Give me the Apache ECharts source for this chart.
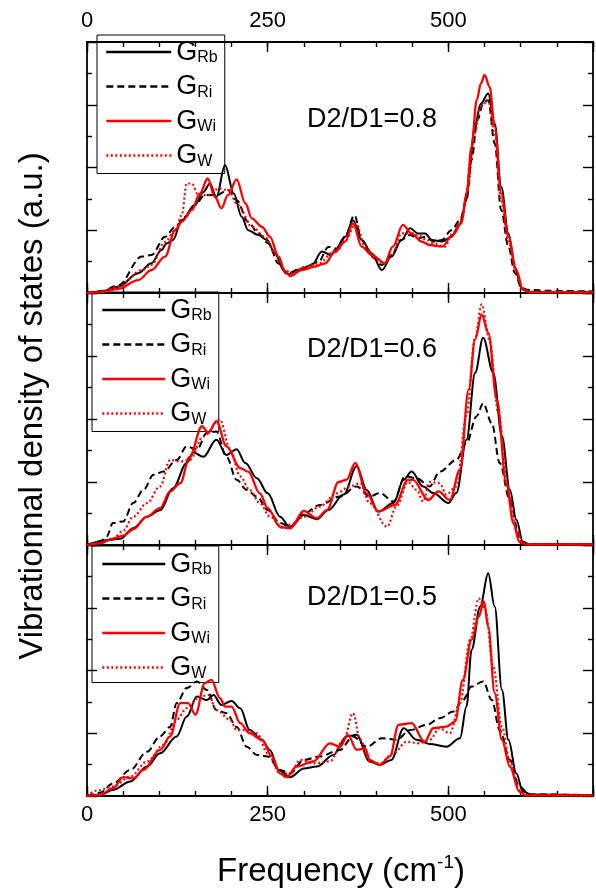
<!DOCTYPE html>
<html><head><meta charset="utf-8">
<script src="https://cdn.jsdelivr.net/npm/echarts@6/dist/echarts.min.js"></script>
<style>html,body{margin:0;padding:0;background:#fff}#c{width:596px;height:891px}</style>
</head><body><div id="c"></div>
<script>
// ---------- data (frequency cm^-1, DOS a.u.) ----------
const xTickLabels = [0, 250, 500];
const panelLabels = ['D2/D1=0.8', 'D2/D1=0.6', 'D2/D1=0.5'];
const seriesNames = ['GRb', 'GRi', 'GWi', 'GW'];

const GRb_08 = [[0,0],[20,0.05],[43,0.2],[71,0.63],[89,0.95],[103,1.37],[110,1.58],[119,1.69],[131,2.32],[149,2.8],[161,3.22],[170,3.49],[179,3.06],[191,4.08],[203,3.17],[214,2.43],[223,2.0],[237,1.85],[249,1.69],[260,1.26],[272,0.73],[279,0.6],[292,0.73],[311,0.89],[325,1.32],[338,1.21],[343,1.37],[357,1.79],[368,2.32],[380,1.69],[394,1.26],[408,0.73],[421,1.16],[435,1.69],[447,2.06],[458,1.9],[468,1.9],[477,1.69],[491,1.64],[504,1.79],[516,2.21],[525,2.96],[529,3.92],[536,5.3],[545,6.04],[555,6.36],[564,5.4],[573,3.39],[583,1.9],[592,0.83],[601,0.15],[610,0.04],[650,0.03],[700,0.03]];
const GRi_08 = [[0,0],[20,0.06],[43,0.24],[76,1.16],[89,1.21],[108,1.79],[122,2.11],[136,2.43],[149,2.8],[163,3.12],[179,3.12],[195,3.28],[207,2.96],[223,2.27],[237,1.9],[251,1.58],[265,0.94],[276,0.62],[297,0.78],[320,0.99],[334,1.47],[348,1.4],[357,1.8],[370,2.48],[380,1.69],[394,1.16],[408,0.89],[421,1.21],[435,1.69],[447,1.85],[458,1.74],[468,1.79],[480,1.64],[491,1.69],[504,2.0],[516,2.32],[525,2.96],[532,4.24],[540,5.51],[548,6.04],[555,6.15],[564,4.77],[573,2.64],[583,1.48],[592,0.64],[601,0.16],[610,0.1],[640,0.07],[700,0.05]];
const GWi_08 = [[0,0],[20,0.03],[43,0.13],[71,0.41],[89,0.73],[108,1.16],[122,2.0],[131,2.27],[145,2.64],[156,3.17],[167,3.65],[177,3.06],[186,2.7],[195,3.12],[207,3.62],[219,2.86],[228,2.38],[242,2.11],[253,1.8],[265,1.16],[274,0.68],[281,0.54],[297,0.73],[315,0.84],[329,0.94],[343,1.3],[357,1.64],[368,2.22],[380,1.48],[394,1.21],[412,0.95],[423,1.48],[437,2.17],[449,1.9],[463,1.64],[474,1.53],[491,1.48],[506,1.85],[518,2.22],[525,3.17],[532,4.66],[539,6.14],[545,6.68],[550,6.95],[557,6.57],[564,5.3],[573,3.17],[583,1.79],[594,0.73],[603,0.1],[612,0.03],[700,0.02]];
const GW_08 = [[0,0],[20,0.05],[43,0.2],[76,0.73],[89,0.89],[108,1.63],[122,2.0],[131,2.48],[138,3.49],[145,3.49],[154,3.12],[168,3.12],[182,3.33],[195,3.28],[209,2.8],[228,2.11],[246,1.8],[260,1.26],[274,0.73],[283,0.62],[302,0.84],[320,0.94],[343,1.35],[357,1.66],[372,2.22],[385,1.48],[400,1.06],[412,0.95],[423,1.27],[435,1.9],[447,1.9],[458,1.85],[470,1.69],[480,1.58],[495,1.48],[506,1.9],[518,2.32],[527,3.38],[536,5.09],[545,5.94],[555,6.15],[564,5.09],[573,2.96],[583,1.64],[594,0.64],[603,0.1],[612,0.03],[700,0.02]];

const GRb_06 = [[0,0],[27,0.15],[46,0.2],[64,0.53],[83,0.9],[101,1.1],[119,1.8],[138,2.6],[147,2.94],[161,2.8],[179,3.34],[193,2.86],[207,3.04],[219,2.6],[235,2.12],[250,1.64],[267,0.9],[281,0.56],[300,0.95],[318,0.82],[334,1.11],[355,1.6],[373,2.5],[387,1.75],[403,1.06],[424,1.33],[438,2.07],[449,2.33],[465,1.86],[479,1.65],[500,1.33],[511,1.65],[525,3.34],[537,5.47],[548,6.58],[562,5.47],[574,3.45],[585,1.75],[594,0.8],[603,0.1],[612,0.02],[700,0.02]];
const GRi_06 = [[0,0],[18,0.1],[27,0.27],[36,0.7],[50,0.75],[64,1.33],[78,1.75],[92,2.23],[106,2.33],[124,2.7],[138,3.13],[152,3.03],[166,3.56],[179,3.6],[193,2.8],[207,2.07],[221,1.75],[235,1.54],[250,1.11],[267,0.7],[281,0.58],[300,1.0],[322,1.27],[350,1.54],[373,1.86],[391,1.54],[405,1.65],[424,1.38],[440,2.18],[456,2.12],[474,1.86],[488,2.33],[511,2.7],[525,3.24],[539,4.09],[548,4.5],[560,3.87],[571,2.6],[585,1.43],[598,0.27],[607,0.03],[700,0.02]];
const GWi_06 = [[0,0],[18,0.05],[36,0.2],[50,0.3],[64,0.5],[83,0.9],[101,1.17],[115,1.7],[129,1.96],[142,2.8],[159,3.77],[168,3.56],[179,3.93],[193,3.13],[212,2.44],[223,2.33],[239,1.64],[250,1.17],[267,0.58],[281,0.53],[300,1.08],[318,0.85],[332,1.11],[348,2.0],[359,2.07],[371,2.6],[387,1.64],[403,1.06],[426,1.27],[444,2.07],[451,2.07],[472,1.43],[486,1.7],[502,1.43],[516,2.39],[528,4.94],[537,6.53],[546,7.32],[555,6.74],[567,4.62],[580,1.96],[590,0.69],[598,0.1],[607,0.02],[700,0.02]];
const GW_06 = [[0,0],[18,0.08],[36,0.2],[50,0.45],[64,0.9],[83,1.33],[101,1.86],[115,2.7],[129,2.65],[142,2.7],[161,3.45],[184,3.98],[198,3.03],[212,2.18],[225,1.75],[239,1.33],[253,0.9],[272,0.53],[285,0.69],[300,0.9],[322,1.22],[345,1.64],[364,1.86],[378,1.96],[391,1.33],[415,0.58],[428,1.22],[444,2.0],[456,1.75],[465,1.38],[474,2.0],[488,1.96],[497,1.6],[511,1.86],[525,4.1],[537,6.6],[546,7.64],[557,6.5],[569,4.2],[583,1.75],[594,0.48],[603,0.05],[612,0.02],[700,0.02]];

const GRb_05 = [[0,0],[18,0.03],[36,0.2],[60,0.46],[83,0.94],[101,1.36],[124,1.9],[138,2.53],[152,3.17],[166,3.06],[175,3.22],[186,2.9],[200,3.03],[212,2.8],[225,2.1],[242,1.79],[253,1.47],[265,0.83],[281,0.6],[300,0.88],[318,0.94],[341,1.31],[359,1.9],[373,1.95],[391,1.1],[405,0.99],[421,1.15],[438,2.16],[456,1.79],[474,1.66],[497,1.57],[516,1.84],[525,2.85],[532,4.66],[544,6.04],[555,7.1],[564,6.04],[574,3.38],[583,1.79],[594,0.72],[603,0.14],[615,0.05],[700,0.03]];
const GRi_05 = [[0,0],[18,0.1],[36,0.4],[60,0.83],[83,1.41],[101,1.9],[115,2.2],[124,2.96],[138,3.44],[152,3.65],[166,3.38],[179,2.74],[193,2.64],[207,2.2],[221,1.57],[235,1.31],[250,1.26],[267,0.83],[281,0.72],[300,1.15],[322,1.26],[350,1.47],[368,1.9],[387,1.57],[408,1.84],[428,1.79],[447,2.1],[470,2.27],[488,2.48],[507,2.69],[520,3.06],[532,3.49],[548,3.65],[560,3.06],[571,2.1],[585,1.15],[598,0.3],[612,0.05],[700,0.03]];
const GWi_05 = [[0,0],[18,0.03],[36,0.25],[50,0.6],[64,0.56],[78,0.83],[101,1.47],[115,1.9],[129,2.96],[140,2.96],[150,2.59],[163,3.6],[172,3.7],[184,3.12],[191,2.85],[200,2.85],[212,2.32],[225,2.0],[242,1.79],[256,1.26],[267,0.72],[276,0.6],[290,0.94],[313,1.1],[336,1.68],[350,1.57],[361,1.95],[373,1.47],[385,1.52],[391,1.15],[405,0.99],[419,1.26],[431,2.27],[449,2.32],[467,1.73],[479,2.16],[497,2.21],[509,2.37],[520,3.7],[532,4.98],[542,5.72],[549,6.2],[555,5.4],[564,3.28],[574,1.79],[585,0.94],[598,0.14],[607,0.02],[700,0.02]];
const GW_05 = [[0,0],[13,0.17],[36,0.3],[60,0.62],[83,1.1],[106,1.63],[124,2.43],[138,2.8],[157,3.17],[168,3.22],[179,2.74],[198,2.43],[207,2.1],[221,2.1],[235,2.0],[250,1.36],[267,0.72],[281,0.72],[295,1.15],[313,1.04],[336,1.1],[355,1.79],[368,2.64],[378,1.79],[391,1.1],[405,1.04],[424,1.36],[442,1.73],[460,1.68],[474,1.79],[488,2.16],[502,2.0],[516,2.96],[530,4.98],[542,6.3],[551,5.94],[562,4.13],[574,2.21],[585,1.1],[598,0.19],[607,0.03],[700,0.02]];

const panelData = [
  [GRb_08, GRi_08, GWi_08, GW_08],
  [GRb_06, GRi_06, GWi_06, GW_06],
  [GRb_05, GRi_05, GWi_05, GW_05]
];

// ---------- layout / style ----------
const FONT = "'Liberation Sans', Arial, sans-serif";
const gridTops = [42, 293, 545];
const gridHeights = [251, 252, 251];
const lineStyles = [
  { color: '#000', width: 2, type: 'solid' },
  { color: '#000', width: 2, type: [7, 4] },
  { color: '#ff0000', width: 2.3, type: 'solid' },
  { color: '#ff0000', width: 2.2, type: [2, 2.5] }
];
const legendPos = [
  { left: 97, top: 35, pad: [4, 7, 4, 8], w: 65 },
  { left: 92, top: 292, pad: [5, 7, 4, 9], w: 63 },
  { left: 92, top: 546, pad: [5, 7, 1, 9], w: 63 }
];
const labelY = [120, 350, 598];

const tickLine = { color: '#000', width: 1.4 };
const fmt = v => (xTickLabels.indexOf(v) >= 0 ? String(v) : '');

const grids = [], xAxes = [], yAxes = [], series = [], legends = [], graphics = [];
for (let i = 0; i < 3; i++) {
  grids.push({ left: 87, top: gridTops[i], width: 506, height: gridHeights[i] });
  const xb = { type: 'value', gridIndex: i, min: 0, max: 700, splitLine: { show: false } };
  const lbl = (show, margin) => ({ show, formatter: fmt, margin, fontSize: 22, color: '#000', fontFamily: FONT, showMaxLabel: true });
  xAxes.push(Object.assign({}, xb, { position: 'bottom', interval: 50,
    axisLine: { show: true, onZero: false, lineStyle: { color: '#000', width: 1.8 } },
    axisTick: { show: true, inside: true, length: 5, lineStyle: tickLine },
    axisLabel: lbl(i === 2, 8) }));
  xAxes.push(Object.assign({}, xb, { position: 'top', interval: 50,
    axisLine: { show: true, onZero: false, lineStyle: { color: '#000', width: 1.8 } },
    axisTick: { show: true, inside: true, length: 5, lineStyle: tickLine },
    axisLabel: lbl(i === 0, 10) }));
  xAxes.push(Object.assign({}, xb, { position: 'bottom', interval: 250,
    axisLine: { show: false, onZero: false },
    axisTick: { show: true, inside: true, length: 10, lineStyle: tickLine },
    axisLabel: { show: false } }));
  xAxes.push(Object.assign({}, xb, { position: 'top', interval: 250,
    axisLine: { show: false, onZero: false },
    axisTick: { show: true, inside: true, length: 10, lineStyle: tickLine },
    axisLabel: { show: false } }));
  ['left', 'right'].forEach(pos => {
    yAxes.push({ type: 'value', gridIndex: i, position: pos, min: 0, max: 8, interval: 2,
      axisLine: { show: true, onZero: false, lineStyle: { color: '#000', width: 1.8 } },
      axisTick: { show: true, inside: true, length: 10, lineStyle: tickLine },
      minorTick: { show: true, splitNumber: 2, length: 5, lineStyle: tickLine },
      axisLabel: { show: false }, splitLine: { show: false }, minorSplitLine: { show: false } });
  });
  panelData[i].forEach((d, k) => {
    series.push({ type: 'line', name: seriesNames[k], xAxisIndex: 4 * i, yAxisIndex: 2 * i,
      data: d, symbol: 'none', smooth: 0.35, smoothMonotone: 'x',
      itemStyle: { color: lineStyles[k].color },
      lineStyle: Object.assign({ cap: 'butt' }, lineStyles[k]), z: 3 + k });
  });
  const lp = legendPos[i];
  legends.push({ show: true, orient: 'vertical', left: lp.left, top: lp.top, padding: lp.pad,
    itemWidth: lp.w, itemHeight: 14, itemGap: 7.5, borderColor: '#000', borderWidth: 1, borderRadius: 0,
    backgroundColor: 'transparent', selectedMode: false, data: seriesNames,
    itemStyle: { opacity: 0 },
    lineStyle: { width: 2.6 },
    formatter: n => '{g|G}{s|' + n.slice(1) + '}',
    textStyle: { color: '#000', fontFamily: FONT, rich: {
      g: { fontSize: 27, lineHeight: 28, verticalAlign: 'bottom', fontFamily: FONT, color: '#000' },
      s: { fontSize: 16, lineHeight: 17, verticalAlign: 'bottom', fontFamily: FONT, color: '#000' } } } });
  graphics.push({ type: 'text', x: 372, y: labelY[i], z: 10,
    style: { text: panelLabels[i], fontSize: 27, fontFamily: FONT, fill: '#000',
      textAlign: 'center', textVerticalAlign: 'middle', align: 'center', verticalAlign: 'middle' } });
}
graphics.push({ type: 'text', x: 33, y: 406, rotation: Math.PI / 2, z: 10,
  style: { text: 'Vibrationnal density of states (a.u.)', fontSize: 33, fontFamily: FONT, fill: '#000',
    textAlign: 'center', textVerticalAlign: 'middle', align: 'center', verticalAlign: 'middle' } });
graphics.push({ type: 'text', x: 341, y: 872, z: 10,
  style: { text: '{a|Frequency (cm}{b|-1}{a|)}', fontFamily: FONT, fill: '#000',
    textAlign: 'center', textVerticalAlign: 'middle', align: 'center', verticalAlign: 'middle',
    rich: { a: { fontSize: 33, lineHeight: 38, fontFamily: FONT, fill: '#000', color: '#000' },
            b: { fontSize: 19, lineHeight: 20, verticalAlign: 'top', fontFamily: FONT, fill: '#000', color: '#000' } } } });

const chart = echarts.init(document.getElementById('c'), null, { renderer: 'canvas' });
chart.setOption({
  animation: false,
  backgroundColor: '#fff',
  grid: grids, xAxis: xAxes, yAxis: yAxes, series: series, legend: legends, graphic: graphics
});
</script></body></html>
